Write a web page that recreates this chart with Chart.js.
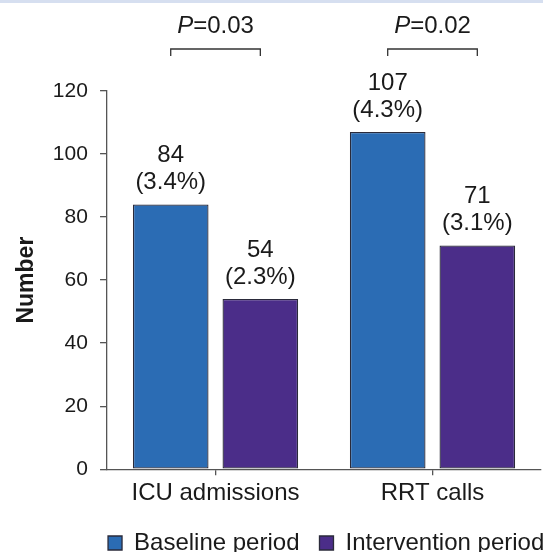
<!DOCTYPE html>
<html>
<head>
<meta charset="utf-8">
<script src="https://cdn.jsdelivr.net/npm/chart.js@4.4.1/dist/chart.umd.min.js"></script>
<style>
  html, body { margin: 0; padding: 0; background: #fff; }
  #wrap { position: relative; width: 543px; height: 552px; }
  #strip { position: absolute; left: 0; top: 0; width: 543px; height: 3px; background: #d6dff0; }
</style>
</head>
<body>
<div id="wrap">
  <canvas id="myChart" width="543" height="552"></canvas>
  <div id="strip"></div>
</div>
<script>
'use strict';

const categories = ['ICU admissions', 'RRT calls'];
const baseline = [84, 107];
const intervention = [54, 71];
const baselinePct = ['(3.4%)', '(4.3%)'];
const interventionPct = ['(2.3%)', '(3.1%)'];
const pValues = ['0.03', '0.02'];
const yTicks = [0, 20, 40, 60, 80, 100, 120];

const font = 'Arial, "Liberation Sans", Helvetica, sans-serif';
const ink = '#1a1a1a';
const legendPad = 20;

// value + percentage above each bar, and the P brackets
const annotate = {
  id: 'annotate',
  beforeLayout(chart) {
    // keep both legend items on one row
    const lg = chart.legend;
    if (lg && !lg._patched) {
      const fit = lg.fit;
      lg.fit = function () { this.maxWidth = 1000; fit.call(this); };
      lg._patched = true;
    }
  },
  afterLayout(chart) {
    // legend starts under the y axis instead of the canvas edge
    const lg = chart.legend;
    lg.left = chart.chartArea.left - legendPad + 1;
    lg.right = lg.left + 1000;
    lg.top -= 1;
    lg.bottom -= 1;
  },
  afterDatasetsDraw(chart) {
    const ctx = chart.ctx;
    const pcts = [baselinePct, interventionPct];
    ctx.save();
    ctx.fillStyle = ink;
    ctx.textAlign = 'center';
    ctx.textBaseline = 'middle';
    ctx.font = '24px ' + font;
    chart.data.datasets.forEach((ds, i) => {
      chart.getDatasetMeta(i).data.forEach((bar, j) => {
        ctx.fillText(String(ds.data[j]), bar.x, bar.y - 49);
        ctx.fillText(pcts[i][j], bar.x, bar.y - 22);
      });
    });

    const top = chart.chartArea.top;
    const b0 = chart.getDatasetMeta(0).data;
    const b1 = chart.getDatasetMeta(1).data;
    ctx.strokeStyle = '#333';
    ctx.lineWidth = 1.3;
    for (let j = 0; j < categories.length; j++) {
      const x0 = b0[j].x, x1 = b1[j].x;
      const yb = top - 42;
      ctx.beginPath();
      ctx.moveTo(x0, yb + 7);
      ctx.lineTo(x0, yb);
      ctx.lineTo(x1, yb);
      ctx.lineTo(x1, yb + 7);
      ctx.stroke();

      const cx = (x0 + x1) / 2;
      ctx.font = 'italic 24px ' + font;
      const wP = ctx.measureText('P').width;
      ctx.font = '24px ' + font;
      const rest = '=' + pValues[j];
      const wR = ctx.measureText(rest).width;
      const start = cx - (wP + wR) / 2;
      const ty = top - 65;
      ctx.textAlign = 'left';
      ctx.font = 'italic 24px ' + font;
      ctx.fillText('P', start, ty);
      ctx.font = '24px ' + font;
      ctx.fillText(rest, start + wP, ty);
      ctx.textAlign = 'center';
    }
    ctx.restore();
  }
};

const ctx = document.getElementById('myChart').getContext('2d');
window.chart = new Chart(ctx, {
  type: 'bar',
  data: {
    labels: categories,
    datasets: [{
      label: 'Baseline period',
      data: baseline,
      backgroundColor: '#2b6cb4',
      borderColor: '#2a2a3a',
      borderWidth: 1.3,
      borderSkipped: false,
      categoryPercentage: 0.826,
      barPercentage: 0.844
    }, {
      label: 'Intervention period',
      data: intervention,
      backgroundColor: '#4b2d89',
      borderColor: '#2a2a3a',
      borderWidth: 1.3,
      borderSkipped: false,
      categoryPercentage: 0.826,
      barPercentage: 0.844
    }]
  },
  options: {
    responsive: false,
    animation: false,
    layout: { padding: { top: 91, right: 2, left: 13, bottom: -14 } },
    plugins: {
      tooltip: { enabled: false },
      legend: {
        position: 'bottom',
        align: 'start',
        labels: {
          color: ink,
          font: { family: font, size: 24, lineHeight: 1 },
          boxWidth: 14,
          boxHeight: 14,
          padding: legendPad
        }
      }
    },
    scales: {
      x: {
        grid: {
          display: true,
          drawOnChartArea: false,
          offset: false,
          tickLength: 6,
          color: '#555',
          lineWidth: 1.3
        },
        border: { color: '#555', width: 1.3 },
        ticks: { color: ink, font: { family: font, size: 24 }, padding: 4 }
      },
      y: {
        min: 0,
        max: 120,
        afterBuildTicks(axis) { axis.ticks = yTicks.map(v => ({ value: v })); },
        grid: {
          display: true,
          drawOnChartArea: false,
          tickLength: 7,
          color: '#555',
          lineWidth: 1.3
        },
        border: { color: '#555', width: 1.3 },
        ticks: { color: ink, font: { family: font, size: 21 }, padding: 12.2 },
        title: {
          display: true,
          text: 'Number',
          color: ink,
          font: { family: font, size: 23, weight: 'bold' },
          padding: { top: 0, bottom: 0 }
        }
      }
    }
  },
  plugins: [annotate]
});
</script>
</body>
</html>
